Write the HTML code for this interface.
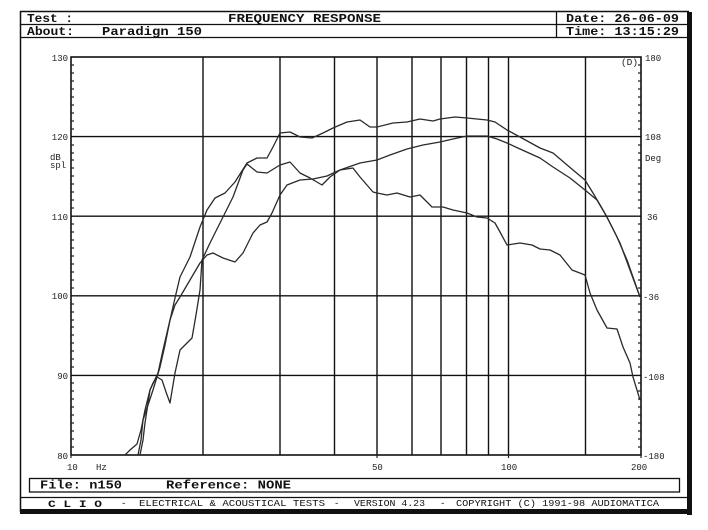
<!DOCTYPE html>
<html><head><meta charset="utf-8"><style>
html,body{margin:0;padding:0;background:#fff;}
svg{display:block;}
.h{font-family:"Liberation Mono",monospace;font-weight:bold;font-size:11.5px;fill:#111;}
.s{font-family:"Liberation Mono",monospace;font-size:9px;fill:#222;}
.f{font-family:"Liberation Mono",monospace;font-weight:bold;font-size:12px;fill:#111;}
.b{font-family:"Liberation Mono",monospace;font-size:9px;fill:#111;}
</style></head><body>
<svg width="708" height="530" viewBox="0 0 708 530" xmlns="http://www.w3.org/2000/svg">
<rect width="708" height="530" fill="#fff"/>
<!-- outer frame -->
<line x1="20.5" y1="11" x2="20.5" y2="512" stroke="#111" stroke-width="1.5"/>
<line x1="20" y1="11.5" x2="689" y2="11.5" stroke="#111" stroke-width="1.5"/>
<rect x="687" y="12" width="5" height="503" fill="#111"/>
<rect x="20" y="509" width="672" height="5" fill="#111"/>
<!-- header lines -->
<line x1="20" y1="24.5" x2="688" y2="24.5" stroke="#111" stroke-width="1.3"/>
<line x1="20" y1="37.5" x2="688" y2="37.5" stroke="#111" stroke-width="1.3"/>
<line x1="556.5" y1="11" x2="556.5" y2="37" stroke="#111" stroke-width="1.3"/>
<text class="h" x="27" y="22" textLength="46" lengthAdjust="spacingAndGlyphs">Test :</text>
<text class="h" x="228" y="22" textLength="153" lengthAdjust="spacingAndGlyphs">FREQUENCY RESPONSE</text>
<text class="h" x="566" y="22" textLength="113" lengthAdjust="spacingAndGlyphs">Date: 26-06-09</text>
<text class="h" x="27" y="35" textLength="47" lengthAdjust="spacingAndGlyphs">About:</text>
<text class="h" x="102" y="35" textLength="100" lengthAdjust="spacingAndGlyphs">Paradign 150</text>
<text class="h" x="566" y="35" textLength="113" lengthAdjust="spacingAndGlyphs">Time: 13:15:29</text>

<!-- grid -->
<g stroke="#111" stroke-width="1.4">
<line x1="203" y1="57" x2="203" y2="455"/>
<line x1="280" y1="57" x2="280" y2="455"/>
<line x1="334.5" y1="57" x2="334.5" y2="455"/>
<line x1="377" y1="57" x2="377" y2="455"/>
<line x1="412" y1="57" x2="412" y2="455"/>
<line x1="441" y1="57" x2="441" y2="455"/>
<line x1="466.5" y1="57" x2="466.5" y2="455"/>
<line x1="488.5" y1="57" x2="488.5" y2="455"/>
<line x1="508.5" y1="57" x2="508.5" y2="455"/>
<line x1="585.5" y1="57" x2="585.5" y2="455"/>
<line x1="71" y1="136.6" x2="641" y2="136.6"/>
<line x1="71" y1="216.2" x2="641" y2="216.2"/>
<line x1="71" y1="295.8" x2="641" y2="295.8"/>
<line x1="71" y1="375.4" x2="641" y2="375.4"/>
</g>
<rect x="71" y="57" width="570" height="398" fill="none" stroke="#111" stroke-width="1.6"/>
<!-- ticks -->
<g stroke="#222" stroke-width="1.2" id="tk">
<path d="M71 65h3M71 73h3M71 81h3M71 89h3M71 97h3M71 105h3M71 113h3M71 121h3M71 129h3M71 145h3M71 153h3M71 160h3M71 168h3M71 176h3M71 184h3M71 192h3M71 200h3M71 208h3M71 224h3M71 232h3M71 240h3M71 248h3M71 256h3M71 264h3M71 272h3M71 280h3M71 288h3M71 304h3M71 312h3M71 320h3M71 327h3M71 335h3M71 343h3M71 351h3M71 359h3M71 367h3M71 383h3M71 391h3M71 399h3M71 407h3M71 415h3M71 423h3M71 431h3M71 439h3M71 447h3"/>
<path d="M641 65h-3M641 73h-3M641 81h-3M641 89h-3M641 97h-3M641 105h-3M641 113h-3M641 121h-3M641 129h-3M641 145h-3M641 153h-3M641 160h-3M641 168h-3M641 176h-3M641 184h-3M641 192h-3M641 200h-3M641 208h-3M641 224h-3M641 232h-3M641 240h-3M641 248h-3M641 256h-3M641 264h-3M641 272h-3M641 280h-3M641 288h-3M641 304h-3M641 312h-3M641 320h-3M641 327h-3M641 335h-3M641 343h-3M641 351h-3M641 359h-3M641 367h-3M641 383h-3M641 391h-3M641 399h-3M641 407h-3M641 415h-3M641 423h-3M641 431h-3M641 439h-3M641 447h-3"/>
<path d="M71 455v3M377 455v3M508.5 455v3M641 455v3"/>
</g>

<!-- curves -->
<g fill="none" stroke="#2a2a2a" stroke-width="1.3" stroke-linejoin="round">
<polyline points="125,455 130,450 137,444 141,430 145,410 150,390 158,373 163,350 170,320 175,298 180,277 190,257 200,227 207,210 215,198 225,193 235,182 247,163 257,158 267,158 273,147 280,133 290,132 300,137 312,138 323,133 333,128 347,122 360,120 370,127 377,127 393,123 407,122 420,119 433,121 440,119 455,117 467,118 487,120 495,122 507,130 520,137 540,148 553,153 573,170 585,180 593,193 603,210 610,223 620,243 630,270 640,297"/>
<polyline points="138,455 141,440 143,420 148,405 153,390 160,367 165,345 170,320 175,305 180,297 190,280 200,263 207,255 213,253 223,258 235,262 243,253 253,233 260,225 267,222 272,213 280,195 287,185 300,180 313,179 327,176 340,170 360,163 377,160 390,155 407,149 423,145 440,142 453,139 467,136 487,136 497,139 507,143 520,149 540,158 553,167 570,178 585,190 597,200 607,217 617,237 627,260 640,297"/>
<polyline points="140,455 143,440 145,423 150,390 153,383 157,377 162,380 166,392 170,403 175,373 180,350 185,345 192,338 196,315 200,290 202,260 210,243 215,233 223,217 233,197 243,170 247,164 257,172 267,173 280,165 290,162 300,173 310,178 322,185 330,177 340,170 353,168 360,177 373,192 377,193 387,195 397,193 410,197 420,195 432,207 443,207 453,210 467,213 477,217 487,218 495,223 500,232 507,245 520,243 532,245 540,249 550,250 560,255 572,270 585,275 590,293 597,310 607,328 617,329 623,347 630,363 633,377 640,400"/>
</g>

<!-- axis labels -->
<g class="s">
<text x="68" y="61" text-anchor="end">130</text>
<text x="68" y="140" text-anchor="end">120</text>
<text x="50" y="160">dB</text>
<text x="50" y="168">spl</text>
<text x="68" y="220" text-anchor="end">110</text>
<text x="68" y="299" text-anchor="end">100</text>
<text x="68" y="379" text-anchor="end">90</text>
<text x="68" y="459" text-anchor="end">80</text>
<text x="645" y="61">180</text>
<text x="645" y="140">108</text>
<text x="645" y="161">Deg</text>
<text x="647" y="220">36</text>
<text x="643" y="300">-36</text>
<text x="643" y="380">-108</text>
<text x="643" y="459">-180</text>
<text x="621" y="65" textLength="17" lengthAdjust="spacingAndGlyphs">(D)</text>
<text x="67" y="470">10</text>
<text x="96" y="470">Hz</text>
<text x="372" y="470">50</text>
<text x="501" y="470">100</text>
<text x="631" y="470">200</text>
</g>

<!-- footer box -->
<rect x="29.5" y="478.5" width="650" height="13.5" fill="none" stroke="#111" stroke-width="1.3"/>
<text class="f" x="40" y="488.5" textLength="82" lengthAdjust="spacingAndGlyphs">File: n150</text>
<text class="f" x="166" y="488.5" textLength="125" lengthAdjust="spacingAndGlyphs">Reference: NONE</text>
<line x1="20" y1="497.5" x2="688" y2="497.5" stroke="#111" stroke-width="1.3"/>
<g class="b">
<text x="48" y="507" textLength="54" lengthAdjust="spacingAndGlyphs" font-weight="bold" font-size="10">C L I O</text>
<text x="121" y="506">-</text>
<text x="139" y="506" textLength="186" lengthAdjust="spacingAndGlyphs">ELECTRICAL &amp; ACOUSTICAL TESTS</text>
<text x="334" y="506">-</text>
<text x="354" y="506" textLength="71" lengthAdjust="spacingAndGlyphs">VERSION 4.23</text>
<text x="440" y="506">-</text>
<text x="456" y="506" textLength="203" lengthAdjust="spacingAndGlyphs">COPYRIGHT (C) 1991-98 AUDIOMATICA</text>
</g>
</svg>
</body></html>
